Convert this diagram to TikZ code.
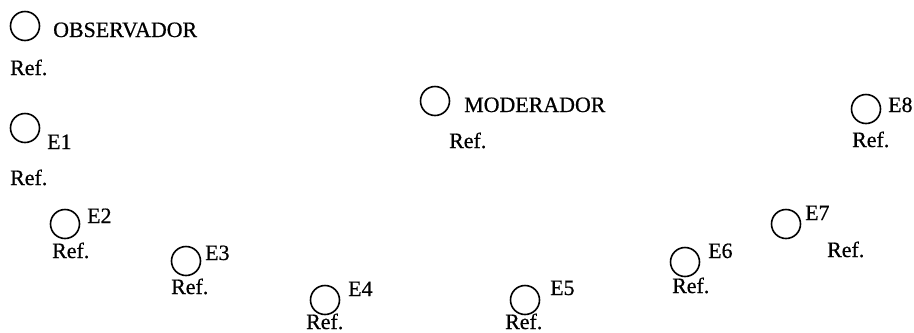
\documentclass[tikz,border=0pt]{standalone}
\usepackage{fontspec}
\setmainfont{Liberation Serif}
\newfontfamily\scanfont[FakeBold=0.6]{Liberation Serif}
\begin{document}
\begin{tikzpicture}[x=1bp,y=-1bp,
  seat/.style={circle,draw,line width=1.6bp,minimum size=29bp,inner sep=0pt},
  lbl/.style={anchor=base west,inner sep=0pt,font=\scanfont\fontsize{22}{26}\selectfont}]
\useasboundingbox (0,0) rectangle (914,332);
% OBSERVADOR
\node[seat] (cobs) at (25,26) {};
\node[lbl] (tobs) at (53,37) {OBSERVADOR};
\node[lbl] (robs) at (10,75) {Ref.};
% E1
\node[seat] (c1) at (25,128) {};
\node[lbl] (t1) at (47,149) {E1};
\node[lbl] (r1) at (10,185) {Ref.};
% E2
\node[seat] (c2) at (65,224) {};
\node[lbl] (t2) at (87,223) {E2};
\node[lbl] (r2) at (52,258) {Ref.};
% E3
\node[seat] (c3) at (186,261) {};
\node[lbl] (t3) at (205,260) {E3};
\node[lbl] (r3) at (171,294) {Ref.};
% E4
\node[seat] (c4) at (325,300) {};
\node[lbl] (t4) at (348,296) {E4};
\node[lbl] (r4) at (306,329) {Ref.};
% MODERADOR
\node[seat] (cmod) at (435,101) {};
\node[lbl] (tmod) at (464,112) {MODERADOR};
\node[lbl] (rmod) at (449,148) {Ref.};
% E5
\node[seat] (c5) at (525,300) {};
\node[lbl] (t5) at (550,295) {E5};
\node[lbl] (r5) at (505,329) {Ref.};
% E6
\node[seat] (c6) at (685,262) {};
\node[lbl] (t6) at (708,258) {E6};
\node[lbl] (r6) at (672,293) {Ref.};
% E7
\node[seat] (c7) at (786,224) {};
\node[lbl] (t7) at (805,220) {E7};
\node[lbl] (r7) at (827,257) {Ref.};
% E8
\node[seat] (c8) at (866,109) {};
\node[lbl] (t8) at (888,112) {E8};
\node[lbl] (r8) at (852,147) {Ref.};
\end{tikzpicture}
\end{document}
